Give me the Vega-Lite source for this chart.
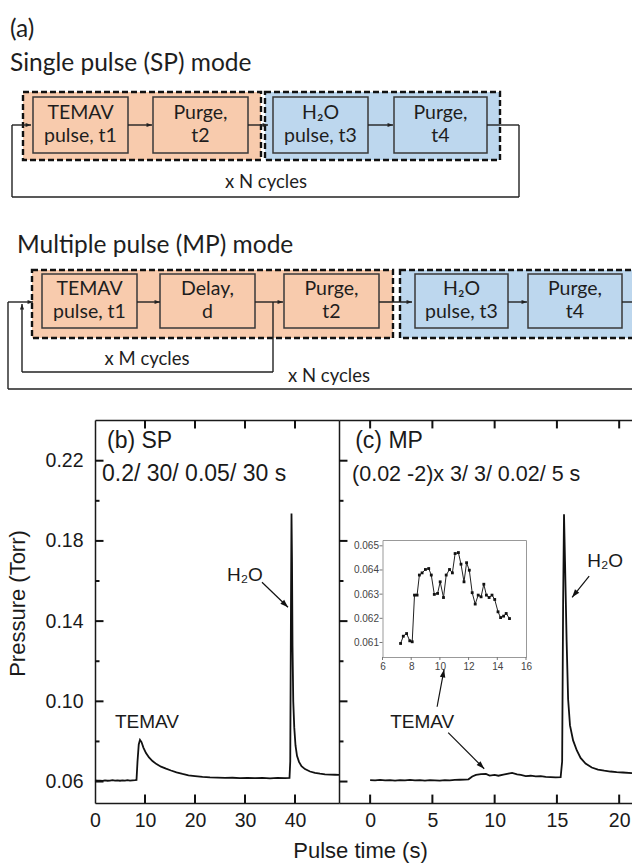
{
  "$schema": "https://vega.github.io/schema/vega-lite/v6.json",
  "width": 632,
  "height": 864,
  "autosize": "none",
  "padding": 0,
  "background": "white",
  "config": {
    "view": {"stroke": null},
    "axis": {"grid": false, "labelFont": "Liberation Sans", "titleFont": "Liberation Sans", "labelColor": "#1a1a1a", "titleColor": "#1a1a1a", "domainColor": "#1a1a1a", "tickColor": "#1a1a1a", "domainWidth": 1.5, "tickWidth": 1.5, "labelFontSize": 19.5, "titleFontSize": 22, "titleFontWeight": "normal", "labelFlush": false, "labelOverlap": false},
    "text": {"font": "Liberation Sans", "color": "#1a1a1a"}
  },
  "datasets": {
    "diagStages": [
      {"x": 23, "x2": 261, "y": 92, "y2": 160, "phase": "metal"},
      {"x": 265, "x2": 500, "y": 92, "y2": 160, "phase": "water"},
      {"x": 32, "x2": 393, "y": 270, "y2": 338, "phase": "metal"},
      {"x": 400, "x2": 645, "y": 270, "y2": 338, "phase": "water"}
    ],
    "diagBoxes": [
      {"x": 33, "x2": 128, "y": 97, "y2": 153, "phase": "metal"},
      {"x": 153, "x2": 248, "y": 97, "y2": 153, "phase": "metal"},
      {"x": 273, "x2": 368, "y": 97, "y2": 153, "phase": "water"},
      {"x": 394, "x2": 487, "y": 97, "y2": 153, "phase": "water"},
      {"x": 42, "x2": 137, "y": 274, "y2": 328, "phase": "metal"},
      {"x": 160, "x2": 255, "y": 274, "y2": 328, "phase": "metal"},
      {"x": 284, "x2": 379, "y": 274, "y2": 328, "phase": "metal"},
      {"x": 415, "x2": 508, "y": 274, "y2": 328, "phase": "water"},
      {"x": 528, "x2": 622, "y": 274, "y2": 328, "phase": "water"}
    ],
    "diagLines": [
      {"x": 12, "x2": 31, "y": 125, "y2": 125},
      {"x": 128, "x2": 152, "y": 125, "y2": 125},
      {"x": 248, "x2": 268, "y": 125, "y2": 125},
      {"x": 368, "x2": 393, "y": 125, "y2": 125},
      {"x": 487, "x2": 519, "y": 125, "y2": 125},
      {"x": 519, "x2": 519, "y": 125, "y2": 197},
      {"x": 12, "x2": 519, "y": 197, "y2": 197},
      {"x": 12, "x2": 12, "y": 125, "y2": 197},
      {"x": 8, "x2": 33, "y": 302, "y2": 302},
      {"x": 137, "x2": 160, "y": 302, "y2": 302},
      {"x": 255, "x2": 283, "y": 302, "y2": 302},
      {"x": 379, "x2": 412, "y": 302, "y2": 302},
      {"x": 508, "x2": 527, "y": 302, "y2": 302},
      {"x": 622, "x2": 632, "y": 302, "y2": 302},
      {"x": 273, "x2": 273, "y": 302, "y2": 372},
      {"x": 22, "x2": 273, "y": 372, "y2": 372},
      {"x": 22, "x2": 22, "y": 304, "y2": 372},
      {"x": 8, "x2": 8, "y": 302, "y2": 389},
      {"x": 8, "x2": 640, "y": 389, "y2": 389}
    ],
    "diagHeads": [
      {"x": 31, "y": 125, "deg": 90},
      {"x": 152, "y": 125, "deg": 90},
      {"x": 268, "y": 125, "deg": 90},
      {"x": 393, "y": 125, "deg": 90},
      {"x": 33, "y": 302, "deg": 90},
      {"x": 160, "y": 302, "deg": 90},
      {"x": 283, "y": 302, "deg": 90},
      {"x": 412, "y": 302, "deg": 90},
      {"x": 527, "y": 302, "deg": 90},
      {"x": 22, "y": 304, "deg": 0}
    ],
    "diagText": [
      {"x": 10, "y": 37, "text": "(a)", "kind": "heading"},
      {"x": 10, "y": 71, "text": "Single pulse (SP) mode", "kind": "heading"},
      {"x": 17, "y": 253, "text": "Multiple pulse (MP) mode", "kind": "heading"},
      {"x": 80.5, "y": 119, "text": "TEMAV", "kind": "box"},
      {"x": 80.5, "y": 142, "text": "pulse, t1", "kind": "box"},
      {"x": 200.5, "y": 119, "text": "Purge,", "kind": "box"},
      {"x": 200.5, "y": 142, "text": "t2", "kind": "box"},
      {"x": 320.5, "y": 119, "text": "H₂O", "kind": "box"},
      {"x": 320.5, "y": 142, "text": "pulse, t3", "kind": "box"},
      {"x": 440.5, "y": 119, "text": "Purge,", "kind": "box"},
      {"x": 440.5, "y": 142, "text": "t4", "kind": "box"},
      {"x": 89.5, "y": 295, "text": "TEMAV", "kind": "box"},
      {"x": 89.5, "y": 318, "text": "pulse, t1", "kind": "box"},
      {"x": 207.5, "y": 295, "text": "Delay,", "kind": "box"},
      {"x": 207.5, "y": 318, "text": "d", "kind": "box"},
      {"x": 331.5, "y": 295, "text": "Purge,", "kind": "box"},
      {"x": 331.5, "y": 318, "text": "t2", "kind": "box"},
      {"x": 461.5, "y": 295, "text": "H₂O", "kind": "box"},
      {"x": 461.5, "y": 318, "text": "pulse, t3", "kind": "box"},
      {"x": 575, "y": 295, "text": "Purge,", "kind": "box"},
      {"x": 575, "y": 318, "text": "t4", "kind": "box"},
      {"x": 266, "y": 188, "text": "x N cycles", "kind": "loop"},
      {"x": 147, "y": 365, "text": "x M cycles", "kind": "loop"},
      {"x": 329, "y": 382, "text": "x N cycles", "kind": "loop"}
    ],
    "spCurve": [
      {"t": 0, "p": 0.0606}, {"t": 0.5, "p": 0.0604}, {"t": 1, "p": 0.0605}, {"t": 1.5, "p": 0.0603}, {"t": 2, "p": 0.0606},
      {"t": 2.5, "p": 0.0604}, {"t": 3, "p": 0.0605}, {"t": 3.5, "p": 0.0607}, {"t": 4, "p": 0.0605}, {"t": 4.5, "p": 0.0606},
      {"t": 5, "p": 0.0604}, {"t": 5.5, "p": 0.0606}, {"t": 6, "p": 0.0605}, {"t": 6.5, "p": 0.0607}, {"t": 7, "p": 0.0605},
      {"t": 7.5, "p": 0.0606}, {"t": 8, "p": 0.0607}, {"t": 8.3, "p": 0.0608}, {"t": 8.5, "p": 0.07}, {"t": 8.75, "p": 0.0785},
      {"t": 9.0, "p": 0.0808}, {"t": 9.3, "p": 0.0797}, {"t": 9.7, "p": 0.0768}, {"t": 10.2, "p": 0.0742}, {"t": 10.8, "p": 0.072},
      {"t": 11.5, "p": 0.0702}, {"t": 12.3, "p": 0.0687}, {"t": 13.2, "p": 0.0674}, {"t": 14.2, "p": 0.0664}, {"t": 15.2, "p": 0.0655},
      {"t": 16.3, "p": 0.0646}, {"t": 17.5, "p": 0.0638}, {"t": 18.7, "p": 0.0631}, {"t": 20, "p": 0.0627}, {"t": 21.5, "p": 0.0623},
      {"t": 23, "p": 0.0621}, {"t": 24.5, "p": 0.062}, {"t": 26, "p": 0.0618}, {"t": 27.5, "p": 0.0619}, {"t": 29, "p": 0.0617},
      {"t": 30.5, "p": 0.0618}, {"t": 32, "p": 0.0617}, {"t": 33.5, "p": 0.0618}, {"t": 35, "p": 0.0616}, {"t": 36.5, "p": 0.0618},
      {"t": 38, "p": 0.0617}, {"t": 38.9, "p": 0.0618}, {"t": 39.05, "p": 0.07}, {"t": 39.2, "p": 0.15}, {"t": 39.3, "p": 0.1937},
      {"t": 39.4, "p": 0.17}, {"t": 39.5, "p": 0.128}, {"t": 39.65, "p": 0.1}, {"t": 39.85, "p": 0.087}, {"t": 40.1, "p": 0.078},
      {"t": 40.4, "p": 0.0728}, {"t": 40.8, "p": 0.0698}, {"t": 41.3, "p": 0.0677}, {"t": 42, "p": 0.0662}, {"t": 43, "p": 0.065},
      {"t": 44, "p": 0.0643}, {"t": 45, "p": 0.0639}, {"t": 46, "p": 0.0636}, {"t": 47, "p": 0.0635}, {"t": 48, "p": 0.0634},
      {"t": 48.8, "p": 0.0633}
    ],
    "mpCurve": [
      {"t": 0, "p": 0.0607}, {"t": 0.4, "p": 0.0606}, {"t": 0.8, "p": 0.0608}, {"t": 1.2, "p": 0.0606}, {"t": 1.6, "p": 0.0607},
      {"t": 2, "p": 0.0605}, {"t": 2.4, "p": 0.0607}, {"t": 2.8, "p": 0.0606}, {"t": 3.2, "p": 0.0608}, {"t": 3.6, "p": 0.0606},
      {"t": 4, "p": 0.0607}, {"t": 4.4, "p": 0.0605}, {"t": 4.8, "p": 0.0607}, {"t": 5.2, "p": 0.0606}, {"t": 5.6, "p": 0.0605},
      {"t": 6, "p": 0.0607}, {"t": 6.4, "p": 0.0606}, {"t": 6.8, "p": 0.0608}, {"t": 7.2, "p": 0.0609}, {"t": 7.6, "p": 0.061},
      {"t": 7.9, "p": 0.0611}, {"t": 8.2, "p": 0.0625}, {"t": 8.5, "p": 0.0633}, {"t": 8.9, "p": 0.0637}, {"t": 9.3, "p": 0.0638},
      {"t": 9.6, "p": 0.063}, {"t": 10, "p": 0.0633}, {"t": 10.3, "p": 0.0629}, {"t": 10.7, "p": 0.0635}, {"t": 11.1, "p": 0.064},
      {"t": 11.4, "p": 0.0643}, {"t": 11.8, "p": 0.0636}, {"t": 12.1, "p": 0.0633}, {"t": 12.5, "p": 0.0627}, {"t": 12.9, "p": 0.0629},
      {"t": 13.3, "p": 0.0626}, {"t": 13.7, "p": 0.0627}, {"t": 14.1, "p": 0.0623}, {"t": 14.5, "p": 0.0622}, {"t": 14.9, "p": 0.0621},
      {"t": 15.3, "p": 0.0622}, {"t": 15.42, "p": 0.07}, {"t": 15.5, "p": 0.15}, {"t": 15.57, "p": 0.1933}, {"t": 15.65, "p": 0.17},
      {"t": 15.78, "p": 0.13}, {"t": 15.9, "p": 0.101}, {"t": 16.05, "p": 0.088}, {"t": 16.3, "p": 0.0805}, {"t": 16.6, "p": 0.0755},
      {"t": 16.9, "p": 0.0718}, {"t": 17.3, "p": 0.069}, {"t": 17.8, "p": 0.067}, {"t": 18.3, "p": 0.066}, {"t": 18.8, "p": 0.0654},
      {"t": 19.3, "p": 0.065}, {"t": 19.8, "p": 0.0647}, {"t": 20.3, "p": 0.0645}, {"t": 21.03, "p": 0.0642}
    ],
    "inset": [
      {"t": 7.26, "p": 0.06096}, {"t": 7.45, "p": 0.06126}, {"t": 7.68, "p": 0.06137}, {"t": 7.9, "p": 0.06107}, {"t": 8.07, "p": 0.06103},
      {"t": 8.23, "p": 0.06296}, {"t": 8.41, "p": 0.06296}, {"t": 8.57, "p": 0.06379}, {"t": 8.76, "p": 0.06388}, {"t": 8.99, "p": 0.06402},
      {"t": 9.22, "p": 0.06406}, {"t": 9.4, "p": 0.06379}, {"t": 9.61, "p": 0.06299}, {"t": 9.84, "p": 0.06303}, {"t": 10.02, "p": 0.06351},
      {"t": 10.25, "p": 0.06286}, {"t": 10.44, "p": 0.06379}, {"t": 10.67, "p": 0.06402}, {"t": 10.87, "p": 0.06388}, {"t": 11.06, "p": 0.06468},
      {"t": 11.29, "p": 0.06472}, {"t": 11.47, "p": 0.06424}, {"t": 11.68, "p": 0.06351}, {"t": 11.86, "p": 0.0643}, {"t": 12.05, "p": 0.06399},
      {"t": 12.25, "p": 0.06306}, {"t": 12.46, "p": 0.06259}, {"t": 12.67, "p": 0.06296}, {"t": 12.87, "p": 0.06289}, {"t": 13.06, "p": 0.06341},
      {"t": 13.24, "p": 0.06296}, {"t": 13.43, "p": 0.06286}, {"t": 13.63, "p": 0.06296}, {"t": 13.82, "p": 0.06278}, {"t": 14.05, "p": 0.06227},
      {"t": 14.23, "p": 0.06203}, {"t": 14.44, "p": 0.06209}, {"t": 14.62, "p": 0.0622}, {"t": 14.85, "p": 0.06199}
    ],
    "xTicksB": [{"t": 10}, {"t": 20}, {"t": 30}, {"t": 40}],
    "xTicksC": [{"t": 0}, {"t": 5}, {"t": 10}, {"t": 15}, {"t": 20}],
    "yTicks": [
      {"p": 0.06, "level": "major"}, {"p": 0.08, "level": "minor"}, {"p": 0.10, "level": "major"}, {"p": 0.12, "level": "minor"},
      {"p": 0.14, "level": "major"}, {"p": 0.16, "level": "minor"}, {"p": 0.18, "level": "major"}, {"p": 0.20, "level": "minor"},
      {"p": 0.22, "level": "major"}
    ],
    "insetXTicks": [{"t": 6}, {"t": 8}, {"t": 10}, {"t": 12}, {"t": 14}, {"t": 16}],
    "insetYTicks": [{"p": 0.061}, {"p": 0.062}, {"p": 0.063}, {"p": 0.064}, {"p": 0.065}],
    "annB": [
      {"t": 2.4, "p": 0.2264, "text": "(b) SP", "kind": "panel"},
      {"t": 1.4, "p": 0.2098, "text": "0.2/ 30/ 0.05/ 30 s", "kind": "condition"},
      {"t": 26.4, "p": 0.1599, "text": "H₂O", "kind": "species"},
      {"t": 4.0, "p": 0.0869, "text": "TEMAV", "kind": "species"}
    ],
    "annC": [
      {"t": -1.2, "p": 0.2264, "text": "(c) MP", "kind": "panel"},
      {"t": -1.45, "p": 0.2098, "text": "(0.02 -2)x 3/ 3/ 0.02/ 5 s", "kind": "condition"},
      {"t": 17.43, "p": 0.1669, "text": "H₂O", "kind": "species"},
      {"t": 1.61, "p": 0.0869, "text": "TEMAV", "kind": "species"}
    ],
    "arrowsB": [
      {"t": 33.4, "p": 0.1594, "t2": 38.6, "p2": 0.1469, "deg": 134}
    ],
    "arrowsC": [
      {"t": 17.59, "p": 0.1624, "t2": 16.22, "p2": 0.1519, "deg": 219},
      {"t": 6.27, "p": 0.0844, "t2": 9.16, "p2": 0.0664, "deg": 135},
      {"t": 5.38, "p": 0.0973, "t2": 5.94, "p2": 0.1159, "deg": 11}
    ]
  },
  "layer": [
    {
      "layer": [
        {
          "data": {"name": "diagStages"},
          "mark": {"type": "rect", "stroke": "#111111", "strokeWidth": 2.4, "strokeDash": [6, 3]},
          "encoding": {
            "x": {"field": "x", "type": "quantitative", "scale": {"domain": [0, 632], "range": [0, 632], "zero": false, "nice": false}, "axis": null},
            "x2": {"field": "x2"},
            "y": {"field": "y", "type": "quantitative", "scale": {"domain": [0, 864], "range": [0, 864], "zero": false, "nice": false}, "axis": null},
            "y2": {"field": "y2"},
            "fill": {"field": "phase", "type": "nominal", "scale": {"domain": ["metal", "water"], "range": ["#f8cbad", "#bdd7ee"]}, "legend": null}
          }
        },
        {
          "data": {"name": "diagBoxes"},
          "mark": {"type": "rect", "stroke": "#3a3a3a", "strokeWidth": 1.5},
          "encoding": {
            "x": {"field": "x", "type": "quantitative", "scale": {"domain": [0, 632], "range": [0, 632], "zero": false, "nice": false}, "axis": null},
            "x2": {"field": "x2"},
            "y": {"field": "y", "type": "quantitative", "scale": {"domain": [0, 864], "range": [0, 864], "zero": false, "nice": false}, "axis": null},
            "y2": {"field": "y2"},
            "fill": {"field": "phase", "type": "nominal", "scale": {"domain": ["metal", "water"], "range": ["#f8cbad", "#bdd7ee"]}, "legend": null}
          }
        },
        {
          "data": {"name": "diagLines"},
          "mark": {"type": "rule", "color": "#222222", "strokeWidth": 1.4},
          "encoding": {
            "x": {"field": "x", "type": "quantitative", "scale": {"domain": [0, 632], "range": [0, 632], "zero": false, "nice": false}, "axis": null},
            "x2": {"field": "x2"},
            "y": {"field": "y", "type": "quantitative", "scale": {"domain": [0, 864], "range": [0, 864], "zero": false, "nice": false}, "axis": null},
            "y2": {"field": "y2"}
          }
        },
        {
          "data": {"name": "diagHeads"},
          "mark": {"type": "point", "shape": "M0,0L0.5,1.3L-0.5,1.3Z", "filled": true, "color": "#222222", "opacity": 1, "size": 70},
          "encoding": {
            "x": {"field": "x", "type": "quantitative", "scale": {"domain": [0, 632], "range": [0, 632], "zero": false, "nice": false}, "axis": null},
            "y": {"field": "y", "type": "quantitative", "scale": {"domain": [0, 864], "range": [0, 864], "zero": false, "nice": false}, "axis": null},
            "angle": {"field": "deg", "type": "quantitative", "scale": null}
          }
        },
        {
          "data": {"name": "diagText"},
          "transform": [{"filter": "datum.kind === 'heading'"}],
          "mark": {"type": "text", "font": "Lato", "fontSize": 24.5, "align": "left", "baseline": "alphabetic", "color": "#1e1e1e"},
          "encoding": {
            "x": {"field": "x", "type": "quantitative", "scale": {"domain": [0, 632], "range": [0, 632], "zero": false, "nice": false}, "axis": null},
            "y": {"field": "y", "type": "quantitative", "scale": {"domain": [0, 864], "range": [0, 864], "zero": false, "nice": false}, "axis": null},
            "text": {"field": "text", "type": "nominal"}
          }
        },
        {
          "data": {"name": "diagText"},
          "transform": [{"filter": "datum.kind === 'box'"}],
          "mark": {"type": "text", "font": "Lato", "fontSize": 19.5, "align": "center", "baseline": "alphabetic", "color": "#1e1e1e"},
          "encoding": {
            "x": {"field": "x", "type": "quantitative", "scale": {"domain": [0, 632], "range": [0, 632], "zero": false, "nice": false}, "axis": null},
            "y": {"field": "y", "type": "quantitative", "scale": {"domain": [0, 864], "range": [0, 864], "zero": false, "nice": false}, "axis": null},
            "text": {"field": "text", "type": "nominal"}
          }
        },
        {
          "data": {"name": "diagText"},
          "transform": [{"filter": "datum.kind === 'loop'"}],
          "mark": {"type": "text", "font": "Lato", "fontSize": 18.5, "align": "center", "baseline": "alphabetic", "color": "#1e1e1e"},
          "encoding": {
            "x": {"field": "x", "type": "quantitative", "scale": {"domain": [0, 632], "range": [0, 632], "zero": false, "nice": false}, "axis": null},
            "y": {"field": "y", "type": "quantitative", "scale": {"domain": [0, 864], "range": [0, 864], "zero": false, "nice": false}, "axis": null},
            "text": {"field": "text", "type": "nominal"}
          }
        }
      ]
    },
    {
      "layer": [
        {
          "data": {"name": "spCurve"},
          "mark": {"type": "line", "color": "#111111", "strokeWidth": 1.8},
          "encoding": {
            "x": {"field": "t", "type": "quantitative", "scale": {"domain": [0, 48.8], "range": [95, 339], "zero": false, "nice": false},
                  "axis": {"orient": "bottom", "offset": -61, "values": [0, 10, 20, 30, 40], "ticks": false, "tickSize": 0, "labelPadding": 8,
                           "title": "Pulse time (s)", "titleX": 360, "titleY": 54, "titleAlign": "center", "titleBaseline": "alphabetic"}},
            "y": {"field": "p", "type": "quantitative", "scale": {"domain": [0.0493, 0.2403], "range": [803, 420], "zero": false, "nice": false},
                  "axis": {"orient": "left", "offset": -95, "values": [0.06, 0.10, 0.14, 0.18, 0.22], "format": ".2f", "ticks": false, "tickSize": 0, "labelPadding": 12,
                           "title": "Pressure (Torr)", "titleX": -71, "titleY": 603, "titleAngle": 270, "titleAlign": "center", "titleBaseline": "alphabetic"}}
          }
        },
        {
          "data": {"name": "xTicksB"},
          "mark": {"type": "rule", "color": "#111111", "strokeWidth": 2},
          "encoding": {
            "x": {"field": "t", "type": "quantitative", "scale": {"domain": [0, 48.8], "range": [95, 339], "zero": false, "nice": false}, "axis": null},
            "y": {"datum": 0.0493, "type": "quantitative", "scale": {"domain": [0.0493, 0.2403], "range": [803, 420], "zero": false, "nice": false}, "axis": null},
            "y2": {"datum": 0.0535}
          }
        },
        {
          "data": {"name": "xTicksB"},
          "mark": {"type": "rule", "color": "#111111", "strokeWidth": 2},
          "encoding": {
            "x": {"field": "t", "type": "quantitative", "scale": {"domain": [0, 48.8], "range": [95, 339], "zero": false, "nice": false}, "axis": null},
            "y": {"datum": 0.2403, "type": "quantitative", "scale": {"domain": [0.0493, 0.2403], "range": [803, 420], "zero": false, "nice": false}, "axis": null},
            "y2": {"datum": 0.2361}
          }
        },
        {
          "data": {"name": "yTicks"},
          "transform": [{"filter": "datum.level === 'major'"}],
          "mark": {"type": "rule", "color": "#111111", "strokeWidth": 2},
          "encoding": {
            "x": {"datum": 0, "type": "quantitative", "scale": {"domain": [0, 48.8], "range": [95, 339], "zero": false, "nice": false}, "axis": null},
            "x2": {"datum": 1.7},
            "y": {"field": "p", "type": "quantitative", "scale": {"domain": [0.0493, 0.2403], "range": [803, 420], "zero": false, "nice": false}, "axis": null}
          }
        },
        {
          "data": {"name": "yTicks"},
          "transform": [{"filter": "datum.level === 'minor'"}],
          "mark": {"type": "rule", "color": "#111111", "strokeWidth": 2},
          "encoding": {
            "x": {"datum": 0, "type": "quantitative", "scale": {"domain": [0, 48.8], "range": [95, 339], "zero": false, "nice": false}, "axis": null},
            "x2": {"datum": 0.9},
            "y": {"field": "p", "type": "quantitative", "scale": {"domain": [0.0493, 0.2403], "range": [803, 420], "zero": false, "nice": false}, "axis": null}
          }
        },
        {
          "data": {"name": "annB"},
          "transform": [{"filter": "datum.kind === 'panel'"}],
          "mark": {"type": "text", "fontSize": 23, "align": "left", "baseline": "alphabetic"},
          "encoding": {
            "x": {"field": "t", "type": "quantitative", "scale": {"domain": [0, 48.8], "range": [95, 339], "zero": false, "nice": false},
                  "axis": {"orient": "top", "offset": -420, "ticks": false, "labels": false, "title": null}},
            "y": {"field": "p", "type": "quantitative", "scale": {"domain": [0.0493, 0.2403], "range": [803, 420], "zero": false, "nice": false}, "axis": null},
            "text": {"field": "text", "type": "nominal"}
          }
        },
        {
          "data": {"name": "annB"},
          "transform": [{"filter": "datum.kind === 'condition'"}],
          "mark": {"type": "text", "fontSize": 23, "align": "left", "baseline": "alphabetic"},
          "encoding": {
            "x": {"field": "t", "type": "quantitative", "scale": {"domain": [0, 48.8], "range": [95, 339], "zero": false, "nice": false}, "axis": null},
            "y": {"field": "p", "type": "quantitative", "scale": {"domain": [0.0493, 0.2403], "range": [803, 420], "zero": false, "nice": false}, "axis": null},
            "text": {"field": "text", "type": "nominal"}
          }
        },
        {
          "data": {"name": "annB"},
          "transform": [{"filter": "datum.kind === 'species'"}],
          "mark": {"type": "text", "fontSize": 19, "align": "left", "baseline": "alphabetic"},
          "encoding": {
            "x": {"field": "t", "type": "quantitative", "scale": {"domain": [0, 48.8], "range": [95, 339], "zero": false, "nice": false}, "axis": null},
            "y": {"field": "p", "type": "quantitative", "scale": {"domain": [0.0493, 0.2403], "range": [803, 420], "zero": false, "nice": false}, "axis": null},
            "text": {"field": "text", "type": "nominal"}
          }
        },
        {
          "data": {"name": "arrowsB"},
          "mark": {"type": "rule", "color": "#111111", "strokeWidth": 1.2},
          "encoding": {
            "x": {"field": "t", "type": "quantitative", "scale": {"domain": [0, 48.8], "range": [95, 339], "zero": false, "nice": false}, "axis": null},
            "x2": {"field": "t2"},
            "y": {"field": "p", "type": "quantitative", "scale": {"domain": [0.0493, 0.2403], "range": [803, 420], "zero": false, "nice": false}, "axis": null},
            "y2": {"field": "p2"}
          }
        },
        {
          "data": {"name": "arrowsB"},
          "mark": {"type": "point", "shape": "M0,0L0.45,1.3L-0.45,1.3Z", "filled": true, "color": "#111111", "opacity": 1, "size": 150},
          "encoding": {
            "x": {"field": "t2", "type": "quantitative", "scale": {"domain": [0, 48.8], "range": [95, 339], "zero": false, "nice": false}, "axis": null},
            "y": {"field": "p2", "type": "quantitative", "scale": {"domain": [0.0493, 0.2403], "range": [803, 420], "zero": false, "nice": false}, "axis": null},
            "angle": {"field": "deg", "type": "quantitative", "scale": null}
          }
        }
      ],
      "resolve": {"scale": {"x": "shared", "y": "shared"}, "axis": {"x": "independent", "y": "independent"}}
    },
    {
      "layer": [
        {
          "data": {"name": "mpCurve"},
          "mark": {"type": "line", "color": "#111111", "strokeWidth": 1.8},
          "encoding": {
            "x": {"field": "t", "type": "quantitative", "scale": {"domain": [-2.5, 21.03], "range": [339, 632], "zero": false, "nice": false},
                  "axis": {"orient": "bottom", "offset": -61, "values": [0, 5, 10, 15, 20], "ticks": false, "tickSize": 0, "labelPadding": 8, "title": null}},
            "y": {"field": "p", "type": "quantitative", "scale": {"domain": [0.0493, 0.2403], "range": [803, 420], "zero": false, "nice": false},
                  "axis": {"orient": "left", "offset": -339, "ticks": false, "labels": false, "title": null}}
          }
        },
        {
          "data": {"name": "xTicksC"},
          "mark": {"type": "rule", "color": "#111111", "strokeWidth": 2},
          "encoding": {
            "x": {"field": "t", "type": "quantitative", "scale": {"domain": [-2.5, 21.03], "range": [339, 632], "zero": false, "nice": false}, "axis": null},
            "y": {"datum": 0.0493, "type": "quantitative", "scale": {"domain": [0.0493, 0.2403], "range": [803, 420], "zero": false, "nice": false}, "axis": null},
            "y2": {"datum": 0.0535}
          }
        },
        {
          "data": {"name": "xTicksC"},
          "mark": {"type": "rule", "color": "#111111", "strokeWidth": 2},
          "encoding": {
            "x": {"field": "t", "type": "quantitative", "scale": {"domain": [-2.5, 21.03], "range": [339, 632], "zero": false, "nice": false}, "axis": null},
            "y": {"datum": 0.2403, "type": "quantitative", "scale": {"domain": [0.0493, 0.2403], "range": [803, 420], "zero": false, "nice": false}, "axis": null},
            "y2": {"datum": 0.2361}
          }
        },
        {
          "data": {"name": "yTicks"},
          "transform": [{"filter": "datum.level === 'major'"}],
          "mark": {"type": "rule", "color": "#111111", "strokeWidth": 2},
          "encoding": {
            "x": {"datum": -2.5, "type": "quantitative", "scale": {"domain": [-2.5, 21.03], "range": [339, 632], "zero": false, "nice": false}, "axis": null},
            "x2": {"datum": -1.82},
            "y": {"field": "p", "type": "quantitative", "scale": {"domain": [0.0493, 0.2403], "range": [803, 420], "zero": false, "nice": false}, "axis": null}
          }
        },
        {
          "data": {"name": "yTicks"},
          "transform": [{"filter": "datum.level === 'minor'"}],
          "mark": {"type": "rule", "color": "#111111", "strokeWidth": 2},
          "encoding": {
            "x": {"datum": -2.5, "type": "quantitative", "scale": {"domain": [-2.5, 21.03], "range": [339, 632], "zero": false, "nice": false}, "axis": null},
            "x2": {"datum": -2.14},
            "y": {"field": "p", "type": "quantitative", "scale": {"domain": [0.0493, 0.2403], "range": [803, 420], "zero": false, "nice": false}, "axis": null}
          }
        },
        {
          "data": {"name": "annC"},
          "transform": [{"filter": "datum.kind === 'panel'"}],
          "mark": {"type": "text", "fontSize": 23, "align": "left", "baseline": "alphabetic"},
          "encoding": {
            "x": {"field": "t", "type": "quantitative", "scale": {"domain": [-2.5, 21.03], "range": [339, 632], "zero": false, "nice": false},
                  "axis": {"orient": "top", "offset": -420, "ticks": false, "labels": false, "title": null}},
            "y": {"field": "p", "type": "quantitative", "scale": {"domain": [0.0493, 0.2403], "range": [803, 420], "zero": false, "nice": false}, "axis": null},
            "text": {"field": "text", "type": "nominal"}
          }
        },
        {
          "data": {"name": "annC"},
          "transform": [{"filter": "datum.kind === 'condition'"}],
          "mark": {"type": "text", "fontSize": 21.5, "align": "left", "baseline": "alphabetic"},
          "encoding": {
            "x": {"field": "t", "type": "quantitative", "scale": {"domain": [-2.5, 21.03], "range": [339, 632], "zero": false, "nice": false}, "axis": null},
            "y": {"field": "p", "type": "quantitative", "scale": {"domain": [0.0493, 0.2403], "range": [803, 420], "zero": false, "nice": false}, "axis": null},
            "text": {"field": "text", "type": "nominal"}
          }
        },
        {
          "data": {"name": "annC"},
          "transform": [{"filter": "datum.kind === 'species'"}],
          "mark": {"type": "text", "fontSize": 19, "align": "left", "baseline": "alphabetic"},
          "encoding": {
            "x": {"field": "t", "type": "quantitative", "scale": {"domain": [-2.5, 21.03], "range": [339, 632], "zero": false, "nice": false}, "axis": null},
            "y": {"field": "p", "type": "quantitative", "scale": {"domain": [0.0493, 0.2403], "range": [803, 420], "zero": false, "nice": false}, "axis": null},
            "text": {"field": "text", "type": "nominal"}
          }
        },
        {
          "data": {"name": "arrowsC"},
          "mark": {"type": "rule", "color": "#111111", "strokeWidth": 1.2},
          "encoding": {
            "x": {"field": "t", "type": "quantitative", "scale": {"domain": [-2.5, 21.03], "range": [339, 632], "zero": false, "nice": false}, "axis": null},
            "x2": {"field": "t2"},
            "y": {"field": "p", "type": "quantitative", "scale": {"domain": [0.0493, 0.2403], "range": [803, 420], "zero": false, "nice": false}, "axis": null},
            "y2": {"field": "p2"}
          }
        },
        {
          "data": {"name": "arrowsC"},
          "mark": {"type": "point", "shape": "M0,0L0.45,1.3L-0.45,1.3Z", "filled": true, "color": "#111111", "opacity": 1, "size": 150},
          "encoding": {
            "x": {"field": "t2", "type": "quantitative", "scale": {"domain": [-2.5, 21.03], "range": [339, 632], "zero": false, "nice": false}, "axis": null},
            "y": {"field": "p2", "type": "quantitative", "scale": {"domain": [0.0493, 0.2403], "range": [803, 420], "zero": false, "nice": false}, "axis": null},
            "angle": {"field": "deg", "type": "quantitative", "scale": null}
          }
        }
      ],
      "resolve": {"scale": {"x": "shared", "y": "shared"}, "axis": {"x": "independent", "y": "independent"}}
    },
    {
      "layer": [
        {
          "data": {"name": "inset"},
          "mark": {"type": "line", "color": "#222222", "strokeWidth": 1},
          "encoding": {
            "x": {"field": "t", "type": "quantitative", "scale": {"domain": [6, 16], "range": [382.5, 526], "zero": false, "nice": false},
                  "axis": {"orient": "bottom", "offset": -207, "values": [6, 8, 10, 12, 14, 16], "ticks": false, "tickSize": 0, "labelPadding": 4, "labelFontSize": 10, "labelColor": "#444444", "domainColor": "#999999", "domainWidth": 1, "title": null}},
            "y": {"field": "p", "type": "quantitative", "scale": {"domain": [0.0604, 0.06524], "range": [657, 540], "zero": false, "nice": false},
                  "axis": {"orient": "left", "offset": -382.5, "values": [0.061, 0.062, 0.063, 0.064, 0.065], "format": ".3f", "ticks": false, "tickSize": 0, "labelPadding": 4, "labelFontSize": 10, "labelColor": "#444444", "domainColor": "#999999", "domainWidth": 1, "title": null}}
          }
        },
        {
          "data": {"name": "insetXTicks"},
          "mark": {"type": "rule", "color": "#777777", "strokeWidth": 1},
          "encoding": {
            "x": {"field": "t", "type": "quantitative", "scale": {"domain": [6, 16], "range": [382.5, 526], "zero": false, "nice": false}, "axis": null},
            "y": {"datum": 0.0604, "type": "quantitative", "scale": {"domain": [0.0604, 0.06524], "range": [657, 540], "zero": false, "nice": false}, "axis": null},
            "y2": {"datum": 0.060276}
          }
        },
        {
          "data": {"name": "insetYTicks"},
          "mark": {"type": "rule", "color": "#777777", "strokeWidth": 1},
          "encoding": {
            "x": {"datum": 6, "type": "quantitative", "scale": {"domain": [6, 16], "range": [382.5, 526], "zero": false, "nice": false}, "axis": null},
            "x2": {"datum": 5.79},
            "y": {"field": "p", "type": "quantitative", "scale": {"domain": [0.0604, 0.06524], "range": [657, 540], "zero": false, "nice": false}, "axis": null}
          }
        },
        {
          "data": {"name": "inset"},
          "mark": {"type": "point", "shape": "square", "filled": true, "color": "#111111", "opacity": 1, "size": 8},
          "encoding": {
            "x": {"field": "t", "type": "quantitative", "scale": {"domain": [6, 16], "range": [382.5, 526], "zero": false, "nice": false},
                  "axis": {"orient": "top", "offset": -540, "ticks": false, "labels": false, "domainColor": "#999999", "domainWidth": 1, "title": null}},
            "y": {"field": "p", "type": "quantitative", "scale": {"domain": [0.0604, 0.06524], "range": [657, 540], "zero": false, "nice": false},
                  "axis": {"orient": "right", "offset": -106, "ticks": false, "labels": false, "domainColor": "#999999", "domainWidth": 1, "title": null}}
          }
        }
      ],
      "resolve": {"scale": {"x": "shared", "y": "shared"}, "axis": {"x": "independent", "y": "independent"}}
    }
  ],
  "resolve": {"scale": {"x": "independent", "y": "independent", "fill": "independent"}, "axis": {"x": "independent", "y": "independent"}}
}
